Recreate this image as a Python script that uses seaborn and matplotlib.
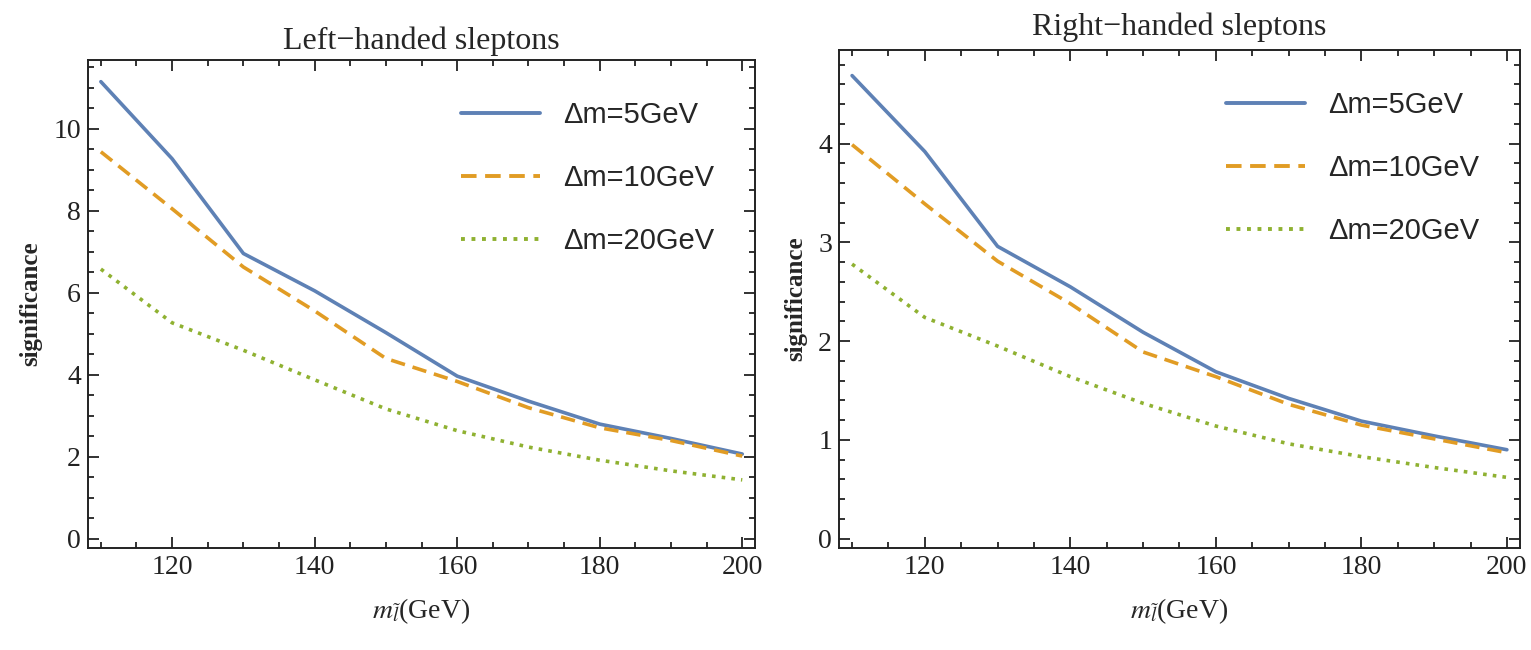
import pandas as pd
import seaborn as sns
import matplotlib
matplotlib.use("Agg")
import matplotlib.pyplot as plt
from matplotlib.ticker import MultipleLocator

# slepton mass (GeV)
masses = [110, 120, 130, 140, 150, 160, 170, 180, 190, 200]

# Left-handed sleptons, significance
left_dm5 = [11.15, 9.27, 6.96, 6.05, 5.03, 3.97, 3.36, 2.80, 2.45, 2.07]
left_dm10 = [9.44, 8.05, 6.63, 5.56, 4.40, 3.84, 3.20, 2.71, 2.40, 2.02]
left_dm20 = [6.58, 5.27, 4.60, 3.88, 3.17, 2.64, 2.24, 1.92, 1.66, 1.44]

# Right-handed sleptons, significance
right_dm5 = [4.69, 3.92, 2.96, 2.55, 2.09, 1.69, 1.42, 1.19, 1.04, 0.90]
right_dm10 = [3.99, 3.39, 2.81, 2.38, 1.89, 1.64, 1.36, 1.15, 1.01, 0.87]
right_dm20 = [2.78, 2.24, 1.95, 1.64, 1.37, 1.14, 0.96, 0.83, 0.72, 0.62]

labels = ["Δm=5GeV", "Δm=10GeV", "Δm=20GeV"]
colors = ["#5E81B5", "#E19C24", "#8FB131"]

sns.set_style("ticks")
plt.rcParams['font.family'] = ['Liberation Serif', 'DejaVu Serif']
plt.rcParams['mathtext.fontset'] = 'stix'


def make_df(series):
    rows = []
    for lab, vals in zip(labels, series):
        for m, v in zip(masses, vals):
            rows.append({"mass": m, "sig": v, "dm": lab})
    return pd.DataFrame(rows)


fig = plt.figure(figsize=(15.31, 6.5), dpi=100)
ax1 = fig.add_axes([0.0575, 0.157, 0.4357, 0.7508])
ax2 = fig.add_axes([0.548, 0.157, 0.4448, 0.7662])

panels = [
    (ax1, make_df([left_dm5, left_dm10, left_dm20]), "Left\u2212handed sleptons",
     (-0.22, 11.68), 2, 0.5, 8),
    (ax2, make_df([right_dm5, right_dm10, right_dm20]), "Right\u2212handed sleptons",
     (-0.095, 4.95), 1, 0.2, 11),
]

dashes = {labels[0]: "", labels[1]: (4.0, 2.2), labels[2]: (1.0, 1.7)}

for ax, df, title, ylim, ymaj, ymin, tpad in panels:
    sns.lineplot(data=df, x="mass", y="sig", hue="dm", style="dm",
                 palette=colors, dashes=dashes, linewidth=2.6, ax=ax)
    ax.set_xlim(108.2, 201.8)
    ax.set_ylim(*ylim)
    ax.xaxis.set_major_locator(MultipleLocator(20))
    ax.xaxis.set_minor_locator(MultipleLocator(5))
    ax.yaxis.set_major_locator(MultipleLocator(ymaj))
    ax.yaxis.set_minor_locator(MultipleLocator(ymin))
    ax.tick_params(which="both", direction="in", top=True, right=True,
                   width=1.3, labelsize=20, colors="#222222")
    ax.tick_params(which="major", length=8, pad=5)
    ax.tick_params(which="minor", length=4.5)
    for sp in ax.spines.values():
        sp.set_linewidth(1.4)
        sp.set_color("#222222")
    ax.set_title(title, fontsize=23, pad=tpad)
    ax.set_xlabel(r"$m_{\tilde{l}}$(GeV)", fontsize=20, labelpad=12)
    ax.set_ylabel("significance", fontsize=18, fontweight="bold", labelpad=8)
    leg = ax.legend(loc="upper right", frameon=False, handlelength=2.7,
                    labelspacing=1.2, borderaxespad=1.0, handletextpad=0.8,
                    prop={"family": "Liberation Sans", "size": 21})
    for line in leg.get_lines():
        line.set_linewidth(2.8)

fig.savefig("out.png", dpi=100)
